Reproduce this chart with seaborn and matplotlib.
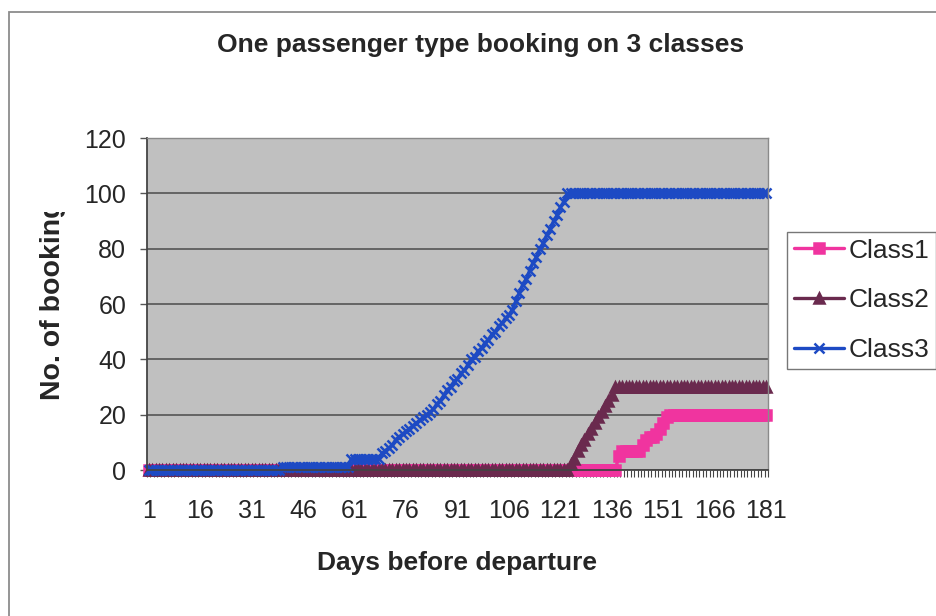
import numpy as np
import pandas as pd
import matplotlib
matplotlib.use("Agg")
import matplotlib.pyplot as plt
import seaborn as sns
from matplotlib.patches import Rectangle
from matplotlib.transforms import Bbox, TransformedBbox

# data (cumulative bookings per day)
days = list(range(1, 182))
classes = ["Class1", "Class2", "Class3"]

class1 = [0] * 137 + [5, 7, 7, 7, 7, 7, 7, 9, 11, 12, 12, 13, 15, 17, 19, 20] + [20] * 28
class2 = [0] * 123 + [2, 4, 7, 9, 11, 13, 15, 17, 19, 21, 23, 25, 27, 30] + [30] * 44
class3_rise = [6, 7, 8, 9, 11, 12, 13, 14, 15, 16, 17, 18, 19, 20, 21, 22, 24, 25, 27, 29,
               30, 32, 33, 35, 36, 38, 40, 41, 43, 44, 46, 47, 49, 50, 52, 53, 55, 56, 58,
               61, 64, 67, 69, 72, 75, 77, 80, 82, 85, 87, 90, 92, 95, 97, 100]
class3 = [0] * 39 + [1] * 20 + [4] * 9 + class3_rise + [100] * 58

tick_days = list(range(1, 182, 15))
y_ticks = [0, 20, 40, 60, 80, 100, 120]

colors = {"Class1": "#f0349f", "Class2": "#6a2a4e", "Class3": "#1d4ac4"}
markers = {"Class1": "s", "Class2": "^", "Class3": "x"}

df = pd.DataFrame({
    "day": days * 3,
    "bookings": class1 + class2 + class3,
    "cls": ["Class1"] * 181 + ["Class2"] * 181 + ["Class3"] * 181,
})

sns.set_style("white")
plt.rcParams["font.family"] = ["Liberation Sans", "DejaVu Sans"]

fig = plt.figure(figsize=(9.37, 6.16), dpi=100)
ax = fig.add_axes([147 / 937, 1 - 470 / 616, 621 / 937, 332 / 616])
ax.set_facecolor("#c0c0c0")

for c in classes:
    sns.lineplot(data=df[df["cls"] == c], x="day", y="bookings", color=colors[c],
                 marker=markers[c], linewidth=2.4, markersize=6.5,
                 markeredgecolor=colors[c], markeredgewidth=1.8, clip_on=False,
                 label=c, legend=False, ax=ax)

ax.set_xlim(0.5, 181.5)
ax.set_ylim(0, 120)
ax.set_xticks(tick_days)
ax.set_xticklabels([str(d) for d in tick_days])
ax.set_xticks(np.arange(0.5, 182, 1), minor=True)
ax.tick_params(axis="x", which="major", length=0, pad=21, labelsize=18)
ax.tick_params(axis="x", which="minor", length=5, width=0.8, color="#444444", direction="out", bottom=True)
ax.set_yticks(y_ticks)
ax.tick_params(axis="y", length=5, width=1, color="#555555", direction="out", pad=10, labelsize=18, left=True)
ax.set_xlabel("")
ax.set_ylabel("")
ax.yaxis.grid(True, color="#555555", linewidth=1.2)
ax.set_axisbelow(True)
for side in ["top", "right"]:
    ax.spines[side].set_color("#8a8a8a")
    ax.spines[side].set_linewidth(1)
ax.spines["left"].set_color("#444444")
ax.spines["bottom"].set_color("#444444")
ax.spines["left"].set_linewidth(1.3)
ax.spines["bottom"].set_linewidth(1.3)

# legend, its box runs off the right edge like the original
handles = ax.get_lines()[:3]
leg = ax.legend(handles, classes, loc="upper left", bbox_to_anchor=(787 / 937, 1 - 232 / 616),
                bbox_transform=fig.transFigure, borderaxespad=0, fontsize=19,
                frameon=True, fancybox=False, edgecolor="#555555", borderpad=0.25,
                handlelength=1.9, handletextpad=0.2, labelspacing=0.98)
leg.get_frame().set_linewidth(1)

fig.text(481 / 937, 1 - 45 / 616, "One passenger type booking on 3 classes",
         ha="center", va="center", fontsize=19, fontweight="bold")
fig.text(457 / 937, 1 - 563 / 616, "Days before departure",
         ha="center", va="center", fontsize=19, fontweight="bold")
ylab = fig.text(53 / 937, 1 - 400 / 616, "No. of bookings", rotation=90,
                ha="center", va="bottom", fontsize=20.5, fontweight="bold")
ylab.set_clip_box(TransformedBbox(Bbox([[0, 0], [1, 1 - 212 / 616]]), fig.transFigure))
ylab.set_clip_on(True)

# outer chart frame
fig.patches.append(Rectangle((9 / 937, -0.1), 1.1, 1.1 - 12 / 616,
                             transform=fig.transFigure, fill=False,
                             edgecolor="#8c8c8c", linewidth=1.3))

fig.savefig("out.png", dpi=100)
